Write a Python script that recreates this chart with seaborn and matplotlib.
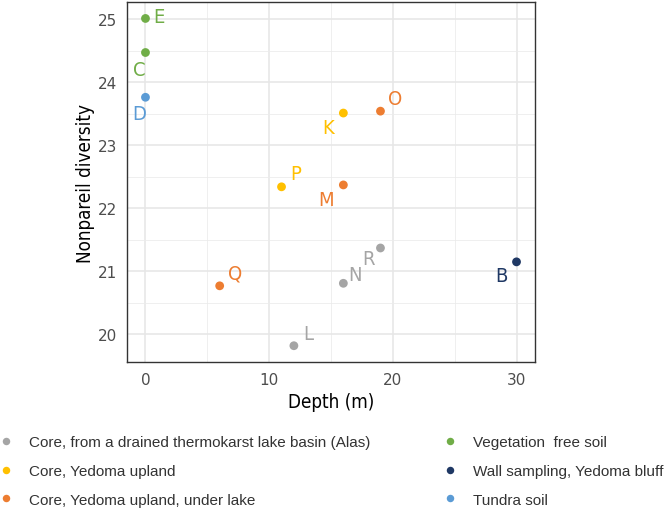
import matplotlib
matplotlib.use("Agg")
import matplotlib.pyplot as plt
import seaborn as sns
import pandas as pd
from matplotlib.ticker import MultipleLocator

labels = ["E", "C", "D", "K", "O", "P", "M", "Q", "N", "R", "L", "B"]
depth = [0, 0, 0, 16, 19, 11, 16, 6, 16, 19, 12, 30]
diversity = [25.01, 24.47, 23.76, 23.51, 23.54, 22.34, 22.37, 20.77, 20.81, 21.37, 19.82, 21.15]
groups = ["Vegetation  free soil", "Vegetation  free soil", "Tundra soil",
          "Core, Yedoma upland", "Core, Yedoma upland, under lake", "Core, Yedoma upland",
          "Core, Yedoma upland, under lake", "Core, Yedoma upland, under lake",
          "Core, from a drained thermokarst lake basin (Alas)",
          "Core, from a drained thermokarst lake basin (Alas)",
          "Core, from a drained thermokarst lake basin (Alas)",
          "Wall sampling, Yedoma bluff"]
# label offsets in pixels (text position relative to point)
label_dx = [13, -6, -6, -15, 15, 14, -17, 15, 12, -12, 14, -15]
label_dy = [2, -17, -16, -14, 13, 13, -15, 13, 9, -11, 12, -14]

group_order = ["Core, from a drained thermokarst lake basin (Alas)",
               "Core, Yedoma upland",
               "Core, Yedoma upland, under lake",
               "Vegetation  free soil",
               "Wall sampling, Yedoma bluff",
               "Tundra soil"]
group_colors = ["#A5A5A5", "#FFC000", "#ED7D31", "#70AD47", "#1F3864", "#5B9BD5"]
palette = dict(zip(group_order, group_colors))

df = pd.DataFrame({"label": labels, "Depth": depth, "Diversity": diversity, "Group": groups})

sns.set_theme(style="whitegrid")
plt.rcParams['font.family'] = ['DejaVu Sans']

fig = plt.figure(figsize=(6.68, 5.10), dpi=100)
ax = fig.add_axes([0.19, 0.288, 0.611, 0.706])

sns.scatterplot(data=df, x="Depth", y="Diversity", hue="Group", hue_order=group_order,
                palette=palette, s=40, edgecolor="none", ax=ax, zorder=3)

for lab, x, y, g, dx, dy in zip(labels, depth, diversity, groups, label_dx, label_dy):
    ax.annotate(lab, (x, y), xytext=(dx, dy), textcoords="offset pixels",
                ha="center", va="center", color=palette[g], fontsize=14.5,
                fontstretch="condensed")

ax.set_xlim(-1.5, 31.5)
ax.set_ylim(19.56, 25.27)
ax.xaxis.set_major_locator(MultipleLocator(10))
ax.xaxis.set_minor_locator(MultipleLocator(5))
ax.yaxis.set_major_locator(MultipleLocator(1))
ax.yaxis.set_minor_locator(MultipleLocator(0.5))
ax.set_facecolor("white")
ax.grid(which="major", color="#E6E6E6", linewidth=1.1)
ax.grid(which="minor", color="#EBEBEB", linewidth=0.55)
ax.set_axisbelow(True)
for sp in ax.spines.values():
    sp.set_color("#333333")
    sp.set_linewidth(1.0)
ax.tick_params(axis="both", which="major", length=4, width=1, color="#333333",
               labelsize=11, labelcolor="#4D4D4D", pad=3)
ax.tick_params(axis="both", which="minor", length=0)
ax.set_xlabel("Depth (m)", fontsize=13.5, fontstretch="condensed", color="black", labelpad=4)
ax.set_ylabel("Nonpareil diversity", fontsize=13.5, fontstretch="condensed", color="black",
              labelpad=2)

handles, leg_labels = ax.get_legend_handles_labels()
ax.get_legend().remove()
fig.legend(handles, leg_labels, loc="upper left", bbox_to_anchor=(-0.002, 0.145), ncol=2,
           frameon=False, prop={"family": "Liberation Sans", "size": 11},
           labelcolor="#333333", handletextpad=1.0, columnspacing=4.73,
           labelspacing=0.97, markerscale=0.85, handlelength=1.0,
           borderaxespad=0, borderpad=0)

fig.savefig("out.png", dpi=100, facecolor="white")
